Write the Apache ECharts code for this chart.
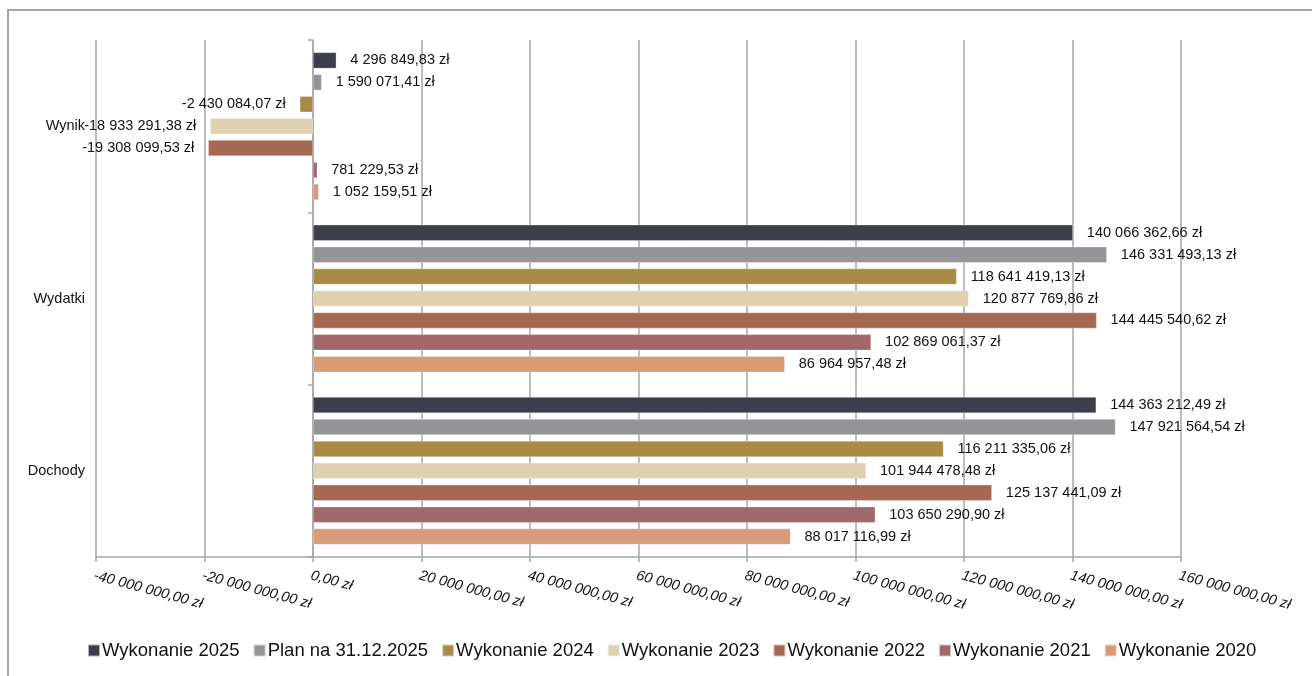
<!DOCTYPE html>
<html>
<head>
<meta charset="utf-8">
<script src="https://cdn.jsdelivr.net/npm/echarts@6/dist/echarts.min.js"></script>
<style>
html,body{margin:0;padding:0;background:#fff;}
#chart{width:1312px;height:676px;}
</style>
</head>
<body>
<div id="chart"></div>
<script>
const categories = ['Dochody', 'Wydatki', 'Wynik'];
const seriesNames = ['Wykonanie 2025', 'Plan na 31.12.2025', 'Wykonanie 2024', 'Wykonanie 2023', 'Wykonanie 2022', 'Wykonanie 2021', 'Wykonanie 2020'];
const wyk2025 = [144363212.49, 140066362.66, 4296849.83];
const plan2025 = [147921564.54, 146331493.13, 1590071.41];
const wyk2024 = [116211335.06, 118641419.13, -2430084.07];
const wyk2023 = [101944478.48, 120877769.86, -18933291.38];
const wyk2022 = [125137441.09, 144445540.62, -19308099.53];
const wyk2021 = [103650290.90, 102869061.37, 781229.53];
const wyk2020 = [88017116.99, 86964957.48, 1052159.51];
const seriesData = [wyk2025, plan2025, wyk2024, wyk2023, wyk2022, wyk2021, wyk2020];
const colors = ['#3c3f4b', '#939598', '#a88b47', '#dfd0b0', '#a56953', '#a0686b', '#d89b77'];
const axisMin = -40000000, axisMax = 160000000, axisStep = 20000000;

function fmt(v) {
  const neg = v < 0;
  const a = Math.abs(v);
  let [i, d] = a.toFixed(2).split('.');
  i = i.replace(/\B(?=(\d{3})+(?!\d))/g, ' ');
  return (neg ? '-' : '') + i + ',' + d + ' zł';
}

const chart = echarts.init(document.getElementById('chart'));
const font = 'Liberation Sans, Arial, sans-serif';

const series = seriesNames.map((name, si) => ({
  name: name,
  type: 'bar',
  barWidth: 16,
  barGap: '37%',
  itemStyle: { color: colors[si], borderColor: 'rgba(255,255,255,0.6)', borderWidth: 0.5 },
  data: seriesData[si].map(v => ({
    value: v,
    label: {
      show: true,
      position: v < 0 ? 'left' : 'right',
      distance: 14,
      formatter: p => fmt(p.value),
      color: '#111',
      fontFamily: font,
      fontSize: 14.5
    }
  }))
}));

chart.setOption({
  animation: false,
  color: colors,
  graphic: [{
    type: 'rect',
    shape: { x: 8, y: 10, width: 1400, height: 700 },
    style: { fill: 'none', stroke: '#a6a6a6', lineWidth: 2 },
    silent: true
  }],
  legend: {
    bottom: 11,
    left: 82,
    itemWidth: 12,
    itemHeight: 12,
    itemGap: 13,
    icon: 'rect',
    textStyle: { fontFamily: font, fontSize: 18.5, color: '#111', padding: [0, 0, 0, -3] },
    data: seriesNames
  },
  grid: { left: 96, right: 131, top: 40, bottom: 119, containLabel: false },
  xAxis: {
    type: 'value',
    min: axisMin,
    max: axisMax,
    interval: axisStep,
    axisLine: { show: true, lineStyle: { color: '#a6a6a6', width: 1.5 } },
    axisTick: { show: true, length: 5, lineStyle: { color: '#a6a6a6', width: 1.5 } },
    splitLine: { show: true, lineStyle: { color: '#a6a6a6', width: 1.5 } },
    axisLabel: {
      rotate: -15,
      align: 'left',
      verticalAlign: 'top',
      margin: 11,
      fontStyle: 'italic',
      fontFamily: font,
      fontSize: 14.5,
      color: '#111',
      formatter: v => fmt(v)
    }
  },
  yAxis: [{
    type: 'category',
    data: categories,
    axisLine: { show: false },
    axisTick: { show: false },
    axisLabel: { margin: 11, fontFamily: font, fontSize: 14.5, color: '#111' }
  }, {
    type: 'category',
    data: categories,
    position: 'left',
    offset: 0,
    axisLine: { show: false },
    axisTick: { show: false },
    axisLabel: { show: false }
  }],
  series: series
});

// move the second (tick-only) category axis onto the zero line
const zeroX = chart.convertToPixel({ xAxisIndex: 0 }, 0);
const leftX = chart.convertToPixel({ xAxisIndex: 0 }, axisMin);
chart.setOption({
  yAxis: [{}, {
    offset: -(zeroX - leftX),
    axisLine: { show: true, onZero: false, lineStyle: { color: '#a6a6a6', width: 1.5 } },
    axisTick: { show: true, length: 5, lineStyle: { color: '#a6a6a6', width: 1.5 } }
  }]
});
</script>
</body>
</html>
